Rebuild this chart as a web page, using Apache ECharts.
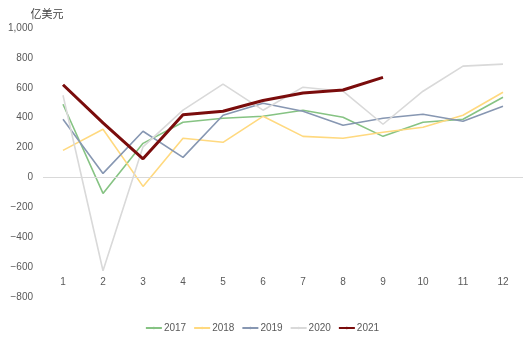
<!DOCTYPE html>
<html><head><meta charset="utf-8">
<script src="https://cdn.jsdelivr.net/npm/echarts@6/dist/echarts.min.js"></script>
<style>html,body{margin:0;padding:0;background:#fff}#c{width:524px;height:341px}</style>
</head><body><div id="c"></div>
<script>
var categories = ['1','2','3','4','5','6','7','8','9','10','11','12'];
var s2017 = [490, -107, 228, 369, 396, 409, 450, 403, 275, 369, 389, 537];
var s2018 = [181, 322, -60, 262, 235, 409, 275, 262, 302, 336, 416, 570];
var s2019 = [389, 27, 309, 134, 416, 497, 443, 349, 396, 423, 376, 476];
var s2020 = [550, -624, 205, 450, 624, 450, 604, 577, 356, 577, 745, 758];
var s2021 = [620, 365, 125, 420, 443, 515, 565, 585, 670];
var seriesNames = ['2017','2018','2019','2020','2021'];
var yTicks = {min: -800, max: 1000, interval: 200};
var unitName = '亿美元';

var colors = ['#86c383', '#ffd97f', '#8797b2', '#d9d9d9', '#7a0c0c'];
var widths = [1.6, 1.6, 1.6, 1.6, 3];
var dataSets = [s2017, s2018, s2019, s2020, s2021];
var font = '"Liberation Sans", "Noto Sans CJK SC", sans-serif';

var series = dataSets.map(function(d, i){
  var s = {
    name: seriesNames[i], type: 'line', data: d, symbol: 'none',
    lineStyle: {color: colors[i], width: widths[i]},
    itemStyle: {color: colors[i]},
    animation: false
  };
  if (i === 0) {
    s.markLine = {silent: true, symbol: 'none', label: {show: false},
      lineStyle: {color: '#d9d9d9', width: 1, type: 'solid'},
      data: [{yAxis: 0}]};
  }
  return s;
});

var chart = echarts.init(document.getElementById('c'), null, {renderer: 'canvas'});
chart.setOption({
  animation: false,
  backgroundColor: '#fff',
  textStyle: {fontFamily: font},
  grid: {left: 43, right: 1, top: 28, bottom: 44},
  legend: {
    data: seriesNames, bottom: 3, left: 'center',
    itemWidth: 16, itemHeight: 3, itemGap: 7,
    textStyle: {color: '#595959', fontSize: 10, fontFamily: font, padding: [0, 0, 0, -3]}
  },
  xAxis: {
    type: 'category', data: categories, boundaryGap: true,
    axisLine: {show: false}, axisTick: {show: false},
    axisLabel: {color: '#595959', fontSize: 10, margin: -20, fontFamily: font},
    splitLine: {show: false}
  },
  yAxis: {
    type: 'value', min: yTicks.min, max: yTicks.max, interval: yTicks.interval,
    name: unitName, nameLocation: 'end', nameGap: 8,
    nameTextStyle: {color: '#404040', fontSize: 11, fontFamily: font, padding: [0, 0, 0, 8]},
    axisLine: {show: false}, axisTick: {show: false}, splitLine: {show: false},
    axisLabel: {color: '#595959', fontSize: 10, margin: 10, fontFamily: font,
      formatter: function(v){ return v.toLocaleString('en-US').replace('-', '\u2212'); }}
  },
  series: series
});
</script></body></html>
